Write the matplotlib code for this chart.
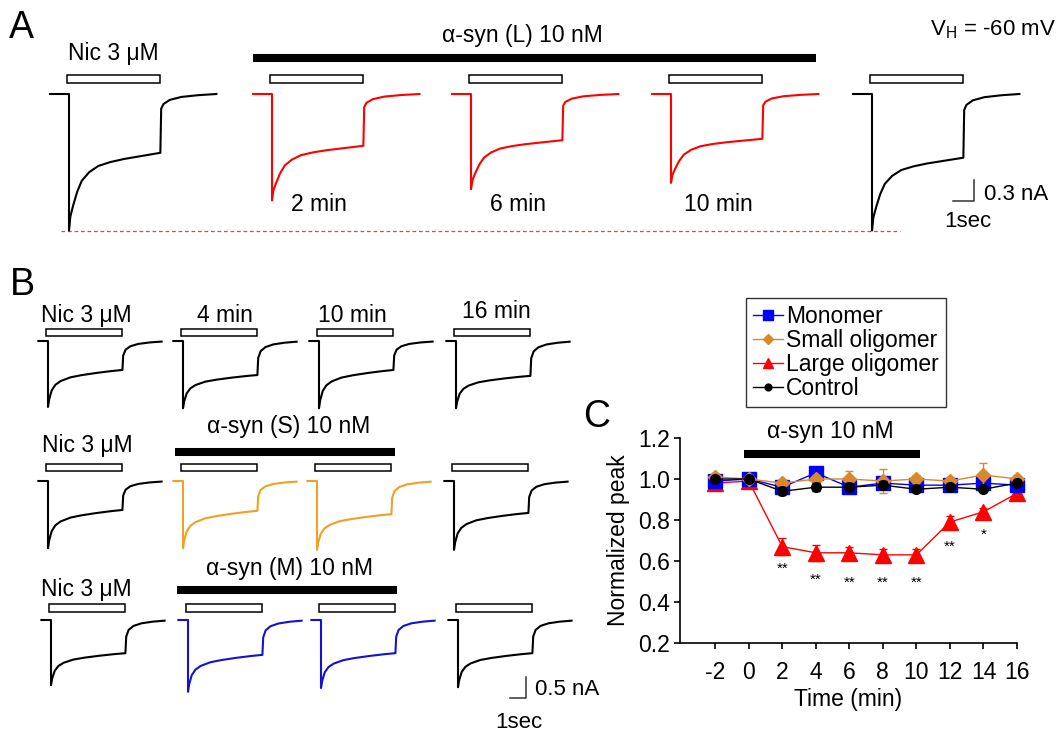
import matplotlib.pyplot as plt
from matplotlib.lines import Line2D
from matplotlib.patches import Rectangle

plt.rcParams['font.family'] = ['Liberation Sans', 'DejaVu Sans']
plt.rcParams['mathtext.fontset'] = 'custom'
plt.rcParams['mathtext.rm'] = 'Liberation Sans'
plt.rcParams['mathtext.it'] = 'Liberation Sans:italic'
plt.rcParams['axes.unicode_minus'] = False

# ---------------- panel C data (normalized peak) ----------------
time_min = [-2, 0, 2, 4, 6, 8, 10, 12, 14, 16]
monomer = [0.99, 1.00, 0.96, 1.03, 0.96, 0.98, 0.97, 0.97, 0.98, 0.97]
monomer_err = [0.02, 0.02, 0.02, 0.02, 0.02, 0.03, 0.02, 0.02, 0.03, 0.02]
small_olig = [1.01, 1.00, 0.98, 1.00, 1.00, 0.99, 1.00, 0.99, 1.02, 1.00]
small_err = [0.02, 0.02, 0.02, 0.02, 0.04, 0.06, 0.02, 0.02, 0.06, 0.02]
large_olig = [0.98, 0.99, 0.67, 0.64, 0.64, 0.63, 0.63, 0.79, 0.84, 0.93]
large_err = [0.02, 0.02, 0.04, 0.04, 0.03, 0.03, 0.03, 0.03, 0.02, 0.02]
control = [1.00, 1.00, 0.94, 0.96, 0.96, 0.97, 0.95, 0.96, 0.95, 0.98]
control_err = [0.01, 0.01, 0.02, 0.02, 0.02, 0.02, 0.01, 0.01, 0.01, 0.01]
star_times = [2, 4, 6, 8, 10, 12, 14]
star_marks = ['**', '**', '**', '**', '**', '**', '*']
star_y = [0.56, 0.51, 0.495, 0.495, 0.495, 0.67, 0.73]

# ---------------- current traces (nA) ----------------
# normalized desensitization shape during the nicotine pulse (fraction of pulse, fraction of peak-plateau)
decay_frac_a = [0, 0.015, 0.045, 0.09, 0.14, 0.22, 0.32, 0.45, 0.6, 0.8, 1.0]
decay_shape_a = [1, 0.82, 0.68, 0.5, 0.36, 0.25, 0.17, 0.12, 0.08, 0.04, 0]
decay_frac_b = [0, 0.015, 0.05, 0.1, 0.17, 0.3, 0.45, 0.65, 0.85, 1.0]
decay_shape_b = [1, 0.8, 0.55, 0.4, 0.3, 0.2, 0.14, 0.08, 0.03, 0]
# washout after the pulse (sec after offset, fraction of plateau)
tail_t_a = [0.04, 0.15, 0.45, 1.0, 1.8, 2.67]
tail_frac_a = [0.25, 0.17, 0.1, 0.05, 0.02, 0.0]
tail_t_b = [0.05, 0.2, 0.5, 1.0, 1.7, 2.45]
tail_frac_b = [0.5, 0.3, 0.18, 0.1, 0.05, 0.02]

a_labels = ['', '2 min', '6 min', '10 min', '']
a_peak = [1.95, 1.52, 1.36, 1.27, 1.95]
a_plateau = [0.84, 0.74, 0.66, 0.64, 0.91]

b_col_labels = ['4 min', '10 min', '16 min']
b_drug_labels = ['', 'α-syn (S) 10 nM', 'α-syn (M) 10 nM']
b_peak = [[1.57, 1.60, 1.60, 1.60],
          [1.60, 1.60, 1.64, 1.64],
          [1.55, 1.71, 1.62, 1.60]]
b_plateau = [[0.69, 0.81, 0.69, 0.83],
             [0.69, 0.71, 0.79, 0.76],
             [0.79, 0.83, 0.79, 0.79]]

ORANGE = '#f0a024'
BLUE = '#1212d0'
a_colors = ['black', '#ff0000', '#ff0000', '#ff0000', 'black']
b_colors = [['black'] * 4,
            ['black', ORANGE, ORANGE, 'black'],
            ['black', BLUE, BLUE, 'black']]

W, H = 1061, 732
fig = plt.figure(figsize=(W / 100, H / 100), dpi=100)
fig.patch.set_facecolor('white')


def px_axes(x0, y0, x1, y1):
    ax = fig.add_axes([x0 / W, 1 - y1 / H, (x1 - x0) / W, (y1 - y0) / H])
    ax.set_axis_off()
    return ax


def ftext(x, y, s, ha='center', size=16.5, **kw):
    fig.text(x / W, 1 - y / H, s, ha=ha, va='baseline', fontsize=size, **kw)


def build_trace(onset, app, pre, peak, plateau, dfrac, dshape, tt, tf):
    t = [onset - pre, onset]
    y = [0.0, 0.0]
    for f, d in zip(dfrac, dshape):
        t.append(onset + f * app)
        y.append(-(plateau + (peak - plateau) * d))
    for dt, f in zip(tt, tf):
        t.append(onset + app + dt)
        y.append(-plateau * f)
    return t, y


# ================= panel A =================
PX_S_A, PX_NA_A, BASE_A = 21.0, 70.0, 94.0
APP_A = 4.35
ax_a = px_axes(0, 0, W, 250)
ax_a.set_xlim(0, W / PX_S_A)
ax_a.set_ylim(-(250 - BASE_A) / PX_NA_A, BASE_A / PX_NA_A)
ax_x = lambda p: p / PX_S_A
ay_y = lambda p: (BASE_A - p) / PX_NA_A

a_onset_px = [69, 272, 471, 671, 872]
for k, on in enumerate(a_onset_px):
    on_s = ax_x(on)
    t, y = build_trace(on_s, APP_A, 0.9, a_peak[k], a_plateau[k],
                       decay_frac_a, decay_shape_a, tail_t_a, tail_frac_a)
    ax_a.plot(t, y, color=a_colors[k], lw=1.5, zorder=3)
    ax_a.add_patch(Rectangle((on_s - 0.1, ay_y(83)), APP_A + 0.1, ay_y(75) - ay_y(83),
                             fc='white', ec='black', lw=1.1, zorder=4))

ax_a.plot([ax_x(253), ax_x(816)], [ay_y(58)] * 2, color='black', lw=5.8,
          solid_capstyle='butt')
ax_a.plot([ax_x(61), ax_x(900)], [-a_peak[0]] * 2, color='#d84a4a', lw=0.9,
          ls=(0, (3, 2.2)), zorder=2)
# scale bar 0.3 nA / 1 s
sx, sy = ax_x(974), ay_y(201)
ax_a.plot([sx - 1, sx, sx], [sy, sy, sy + 0.3], color='#333333', lw=1.1)

ftext(21, 38, 'A', size=27)
ftext(113, 60, 'Nic 3 μM')
ftext(522, 42, 'α-syn (L) 10 nM')
ftext(930, 35, r'V$_{\mathrm{H}}$ = -60 mV', ha='left', size=16)
for k, on in enumerate(a_onset_px):
    if a_labels[k]:
        ftext(on + 47, 211, a_labels[k])
ftext(984, 200, '0.3 nA', ha='left', size=16)
ftext(968, 227, '1sec', size=16)

# ================= panel B =================
PX_S_B, PX_NA_B, BASE_B = 16.0, 42.0, 341.0
APP_B = 4.65
ax_b = px_axes(0, 250, 580, H)
ax_b.set_xlim(0, 580 / PX_S_B)
by_y = lambda p: (BASE_B - p) / PX_NA_B
bx_x = lambda p: p / PX_S_B
ax_b.set_ylim(by_y(H), by_y(250))

row_base_px = [341, 481, 620]
row_bar_px = [(329, 336), (464, 471), (604, 612)]
b_onset_px = [[48, 183, 319, 456], [48, 183, 317, 454], [51, 188, 321, 458]]
for r in range(3):
    shift = by_y(row_base_px[r])
    for c, on in enumerate(b_onset_px[r]):
        on_s = bx_x(on)
        t, y = build_trace(on_s, APP_B, 0.6, b_peak[r][c], b_plateau[r][c],
                           decay_frac_b, decay_shape_b, tail_t_b, tail_frac_b)
        ax_b.plot(t, [v + shift for v in y], color=b_colors[r][c], lw=1.5, zorder=3)
        y0, y1 = row_bar_px[r]
        ax_b.add_patch(Rectangle((on_s - 0.15, by_y(y1)), 4.8, by_y(y0) - by_y(y1),
                                 fc='white', ec='black', lw=1.1, zorder=4))

ax_b.plot([bx_x(175), bx_x(395)], [by_y(452)] * 2, color='black', lw=5.8,
          solid_capstyle='butt')
ax_b.plot([bx_x(177), bx_x(397)], [by_y(590)] * 2, color='black', lw=5.8,
          solid_capstyle='butt')
sx, sy = bx_x(526), by_y(698)
ax_b.plot([sx - 1, sx, sx], [sy, sy, sy + 0.5], color='#333333', lw=1.1)

ftext(22, 295, 'B', size=27)
ftext(86, 322, 'Nic 3 μM')
ftext(225, 322, b_col_labels[0])
ftext(352, 322, b_col_labels[1])
ftext(496, 318, b_col_labels[2])
ftext(87, 452, 'Nic 3 μM')
ftext(289, 433, b_drug_labels[1])
ftext(86, 596, 'Nic 3 μM')
ftext(290, 575, b_drug_labels[2])
ftext(535, 695, '0.5 nA', ha='left', size=16)
ftext(519, 728, '1sec', size=16)

# ================= panel C =================
ax_c = fig.add_axes([680 / W, 1 - 643 / H, (1017 - 680) / W, (643 - 438) / H])
ax_c.set_xlim(-4.1, 16)
ax_c.set_ylim(0.2, 1.2)
for s in ['top', 'right']:
    ax_c.spines[s].set_visible(False)
for s in ['left', 'bottom']:
    ax_c.spines[s].set_linewidth(1.2)
ax_c.set_xticks(time_min)
ax_c.set_yticks([0.2, 0.4, 0.6, 0.8, 1.0, 1.2])
ax_c.set_yticklabels(['0.2', '0.4', '0.6', '0.8', '1.0', '1.2'])
ax_c.tick_params(direction='out', length=4, width=1.2, labelsize=16.5)
ax_c.tick_params(axis='x', pad=9)
ax_c.tick_params(axis='y', pad=3)
ax_c.set_xlabel('Time (min)', fontsize=16.5, labelpad=3)
ax_c.set_ylabel('Normalized peak', fontsize=16.5, labelpad=6)

series = [
    (large_olig, large_err, '#ff0000', '^', 11, 'Large oligomer'),
    (monomer, monomer_err, '#0000ff', 's', 9.5, 'Monomer'),
    (small_olig, small_err, '#d9892a', 'D', 7.5, 'Small oligomer'),
    (control, control_err, 'black', 'o', 7, 'Control'),
]
handles = {}
for z, (vals, err, col, mk, ms, lab) in enumerate(series):
    cont = ax_c.errorbar(time_min, vals, yerr=err, color=col, marker=mk, ms=ms,
                         lw=1.0, capsize=3, elinewidth=1.0, mec=col, zorder=3 + z)
    for art in cont.get_children():
        art.set_clip_on(False)
    handles[lab] = Line2D([], [], color=col, marker=mk, ms=ms * 0.7, lw=1.0)

for t, m, yy in zip(star_times, star_marks, star_y):
    ax_c.text(t, yy, m, ha='center', va='center', fontsize=11)

ax_c.plot([-0.3, 10.2], [1.122, 1.122], color='black', lw=5.8, solid_capstyle='butt',
          clip_on=False)
ftext(830, 438, 'α-syn 10 nM')
ftext(597, 427, 'C', size=27)

order = ['Monomer', 'Small oligomer', 'Large oligomer', 'Control']
leg = ax_c.legend([handles[k] for k in order], order, loc='upper left',
                  bbox_to_anchor=(746 / W, 1 - 298 / H), bbox_transform=fig.transFigure,
                  fontsize=16.5, frameon=True, fancybox=False, borderpad=0.3,
                  handlelength=1.3, handletextpad=0.15, labelspacing=0.05,
                  borderaxespad=0)
leg.get_frame().set_edgecolor('black')
leg.get_frame().set_linewidth(1.0)

fig.savefig('out.png', dpi=100, facecolor='white')
